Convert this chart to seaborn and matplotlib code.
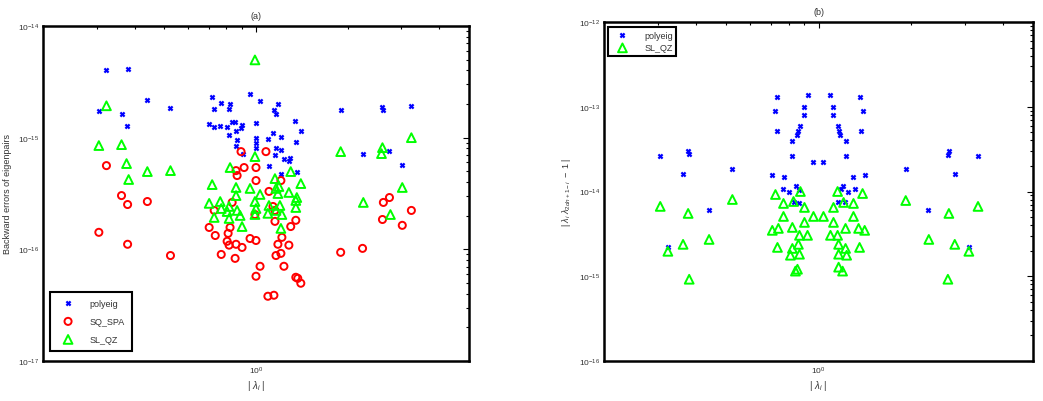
import numpy as np
import pandas as pd
import matplotlib
matplotlib.use("Agg")
import matplotlib.pyplot as plt
import seaborn as sns
from matplotlib.ticker import FixedLocator, NullFormatter, LogFormatterSciNotation

# ---------------- data : panel (a) ----------------
a_poly_x = [0.323, 0.379, 0.305, 0.362, 0.376, 0.440, 0.524, 0.718, 0.729, 0.769, 0.822, 0.816,
            0.956, 0.702, 0.729, 0.763, 0.804, 0.835, 0.854, 0.900, 0.893, 0.860, 0.816, 1.0,
            0.867, 0.860, 1.0, 1.0, 1.0, 0.907, 1.031, 1.180, 1.145, 1.163, 1.341, 1.403,
            1.137, 1.094, 1.207, 1.351, 1.163, 1.207, 1.154, 1.235, 1.291, 1.282, 1.103, 1.361,
            1.207, 1.896, 2.600, 2.618, 3.235, 2.237, 2.741, 3.02]
a_poly_y = [4.05e-15, 4.13e-15, 1.74e-15, 1.64e-15, 1.28e-15, 2.18e-15, 1.85e-15, 2.32e-15,
            1.82e-15, 2.05e-15, 2.01e-15, 1.82e-15, 2.47e-15, 1.33e-15, 1.25e-15, 1.28e-15,
            1.25e-15, 1.39e-15, 1.39e-15, 1.31e-15, 1.23e-15, 1.155e-15, 1.06e-15, 1.36e-15,
            9.6e-16, 8.5e-16, 1.0e-15, 9.0e-16, 8.14e-16, 7.2e-16, 2.14e-15, 2.01e-15,
            1.78e-15, 1.64e-15, 1.42e-15, 1.155e-15, 1.09e-15, 9.8e-16, 1.02e-15, 9.2e-16,
            8.14e-16, 7.8e-16, 7.05e-16, 6.5e-16, 6.63e-16, 6.23e-16, 5.62e-16, 4.97e-16,
            4.77e-16, 1.78e-15, 1.89e-15, 1.78e-15, 1.93e-15, 7.2e-16, 7.66e-16, 5.74e-16]

a_spa_x = [0.323, 0.362, 0.379, 0.440, 0.305, 0.379, 0.524, 0.893, 1.078, 0.914, 0.860, 0.867,
           1.0, 1.0, 1.207, 1.103, 0.835, 0.729, 0.992, 0.702, 0.822, 0.810, 0.735, 0.804,
           0.816, 0.860, 0.900, 0.956, 1.0, 1.137, 1.154, 1.154, 1.351, 1.300, 1.216, 1.180,
           1.282, 1.207, 1.163, 0.769, 0.854, 1.031, 1.0, 1.235, 1.351, 1.371, 1.403, 1.094,
           1.145, 2.618, 2.741, 3.235, 2.600, 3.02, 1.896, 2.237]
a_spa_y = [5.62e-16, 3.03e-16, 2.52e-16, 2.68e-16, 1.42e-16, 1.11e-16, 8.8e-17, 7.5e-16,
           7.5e-16, 5.40e-16, 5.07e-16, 4.58e-16, 5.40e-16, 4.13e-16, 4.13e-16, 3.30e-16,
           2.63e-16, 2.23e-16, 2.05e-16, 1.57e-16, 1.57e-16, 1.39e-16, 1.33e-16, 1.18e-16,
           1.09e-16, 1.11e-16, 1.04e-16, 1.25e-16, 1.20e-16, 2.42e-16, 2.23e-16, 1.78e-16,
           1.82e-16, 1.60e-16, 1.28e-16, 1.11e-16, 1.09e-16, 9.2e-17, 8.8e-17, 9.0e-17,
           8.3e-17, 7.05e-17, 5.74e-17, 7.05e-17, 5.62e-17, 5.5e-17, 4.97e-17, 3.80e-17,
           3.88e-17, 2.63e-16, 2.91e-16, 2.23e-16, 1.85e-16, 1.64e-16, 9.4e-17, 1.02e-16]

a_qz_x = [0.323, 0.305, 0.362, 0.376, 0.382, 0.440, 0.524, 0.992, 0.992, 0.822, 0.718, 0.860,
          0.956, 1.031, 1.154, 1.163, 1.180, 1.282, 1.403, 1.300, 1.189, 1.361, 0.860, 0.702,
          0.763, 0.769, 0.729, 0.816, 0.804, 0.816, 0.867, 0.887, 0.900, 0.992, 1.0, 0.992,
          1.103, 1.094, 1.163, 1.198, 1.216, 1.207, 1.351, 1.351, 3.235, 1.896, 2.600, 2.581,
          3.02, 2.25, 2.761]
a_qz_y = [1.93e-15, 8.5e-16, 8.66e-16, 5.86e-16, 4.22e-16, 4.97e-16, 5.07e-16, 4.97e-15,
          6.77e-16, 5.40e-16, 3.80e-16, 3.58e-16, 3.51e-16, 3.10e-16, 4.30e-16, 3.51e-16,
          3.16e-16, 3.23e-16, 3.88e-16, 4.97e-16, 3.65e-16, 2.91e-16, 3.03e-16, 2.58e-16,
          2.68e-16, 2.32e-16, 1.93e-16, 2.42e-16, 2.18e-16, 1.89e-16, 2.23e-16, 2.01e-16,
          1.60e-16, 2.68e-16, 2.32e-16, 2.05e-16, 2.47e-16, 2.10e-16, 2.23e-16, 2.47e-16,
          2.05e-16, 1.54e-16, 2.74e-16, 2.37e-16, 1.0e-15, 7.5e-16, 8.14e-16, 7.2e-16,
          3.58e-16, 2.63e-16, 2.05e-16]

# ---------------- data : panel (b) ----------------
b_poly_x = [0.305, 0.376, 0.379, 0.362, 0.440, 0.323, 0.524, 0.735, 0.724, 0.735, 0.921, 0.900,
            0.900, 0.873, 0.860, 0.854, 0.822, 0.822, 0.963, 1.038, 1.094, 1.111, 1.119, 1.154,
            1.163, 1.171, 1.225, 1.225, 1.361, 1.392, 1.371, 0.707, 0.774, 1.300, 1.414, 0.769,
            0.804, 0.847, 0.867, 0.829, 0.867, 1.198, 1.244, 1.180, 1.311, 1.154, 1.216, 1.924,
            2.66, 2.64, 3.31, 2.78, 2.27, 3.09]
b_poly_y = [2.65e-14, 3.04e-14, 2.80e-14, 1.63e-14, 5.97e-15, 2.19e-15, 1.82e-14, 1.31e-13,
            8.97e-14, 5.22e-14, 1.38e-13, 1.0e-13, 8.05e-14, 5.98e-14, 5.22e-14, 4.69e-14,
            3.98e-14, 2.65e-14, 2.25e-14, 2.25e-14, 1.38e-13, 1.0e-13, 8.05e-14, 5.98e-14,
            5.22e-14, 4.69e-14, 3.98e-14, 2.65e-14, 1.31e-13, 8.97e-14, 5.22e-14, 1.58e-14,
            1.50e-14, 1.50e-14, 1.58e-14, 1.08e-14, 1.0e-14, 1.15e-14, 1.03e-14, 7.62e-15,
            7.23e-15, 1.15e-14, 1.0e-14, 1.06e-14, 1.08e-14, 7.43e-15, 7.62e-15, 1.82e-14,
            3.04e-14, 2.72e-14, 2.65e-14, 1.63e-14, 5.97e-15, 2.19e-15]

b_qz_x = [0.305, 0.376, 0.323, 0.362, 0.440, 0.379, 0.524, 0.724, 0.873, 0.829, 0.769, 0.900,
          0.769, 0.963, 1.038, 1.119, 1.207, 1.154, 1.392, 1.300, 1.300, 0.900, 1.119, 0.822,
          0.707, 0.740, 0.867, 0.921, 1.094, 1.154, 1.225, 1.351, 1.414, 0.860, 0.822, 0.735,
          0.810, 0.867, 1.163, 1.225, 1.163, 1.235, 1.361, 0.854, 0.841, 1.163, 1.198, 1.924,
          2.66, 3.31, 2.288, 2.78, 3.09, 2.64]
b_qz_y = [6.67e-15, 5.51e-15, 1.97e-15, 2.38e-15, 2.72e-15, 9.22e-16, 8.05e-15, 9.22e-15,
          1.0e-14, 7.62e-15, 7.23e-15, 6.49e-15, 5.08e-15, 5.08e-15, 5.08e-15, 6.49e-15,
          7.43e-15, 1.0e-14, 9.47e-15, 7.23e-15, 5.08e-15, 4.32e-15, 4.32e-15, 3.77e-15,
          3.48e-15, 3.67e-15, 3.04e-15, 3.04e-15, 3.04e-15, 3.04e-15, 3.67e-15, 3.67e-15,
          3.48e-15, 2.38e-15, 2.13e-15, 2.19e-15, 1.77e-15, 1.82e-15, 2.38e-15, 2.13e-15,
          1.82e-15, 1.77e-15, 2.19e-15, 1.21e-15, 1.15e-15, 1.28e-15, 1.15e-15, 7.83e-15,
          5.51e-15, 6.67e-15, 2.72e-15, 2.38e-15, 1.97e-15, 9.22e-16]

labels = ["polyeig", "SQ_SPA", "SL_QZ"]
titles = ["(a)", "(b)"]
ylabel_a = "Backward errors of eigenpairs"
ylabel_b = r"$|\ \lambda_i\ \lambda_{2dn+1-i}\ -\ 1\ |$"
xlabel = r"$|\ \lambda_i\ |$"

# ---------------- style ----------------
sns.set_theme(style="white")
plt.rcParams["font.family"] = ["Liberation Sans", "DejaVu Sans"]
plt.rcParams["mathtext.fontset"] = "custom"
plt.rcParams["mathtext.rm"] = "Liberation Sans"
plt.rcParams["mathtext.it"] = "Liberation Sans:italic"
plt.rcParams["mathtext.sf"] = "Liberation Sans"

TXT = "#333333"
fig = plt.figure(figsize=(10.43, 4.02), dpi=100)
W, H = 1043, 402
ax1 = fig.add_axes([43 / W, 1 - 362 / H, 426 / W, 335 / H])
ax2 = fig.add_axes([604 / W, 1 - 362 / H, 429 / W, 339 / H])


def draw(ax, x, y, kind, label):
    if kind == "x":
        sns.scatterplot(x=x, y=y, ax=ax, marker="x", color="#0000ff", s=9,
                        linewidth=1.6, label=label, zorder=3)
    elif kind == "o":
        sns.scatterplot(x=x, y=y, ax=ax, marker="o", facecolor="none",
                        edgecolor="#ff0000", s=26, linewidth=1.4, label=label, zorder=3)
    else:
        sns.scatterplot(x=x, y=y, ax=ax, marker="^", facecolor="none",
                        edgecolor="#00ff00", s=40, linewidth=1.4, label=label, zorder=3)


draw(ax1, a_poly_x, a_poly_y, "x", labels[0])
draw(ax1, a_spa_x, a_spa_y, "o", labels[1])
draw(ax1, a_qz_x, a_qz_y, "^", labels[2])
draw(ax2, b_poly_x, b_poly_y, "x", labels[0])
draw(ax2, b_qz_x, b_qz_y, "^", labels[2])

x_major = [1.0]
x_minor = [0.2, 0.3, 0.4, 0.5, 0.6, 0.7, 0.8, 0.9, 2, 3, 4, 5]

for ax, ylim, title, ylab in [(ax1, (1e-17, 1e-14), titles[0], ylabel_a),
                               (ax2, (1e-16, 1e-12), titles[1], ylabel_b)]:
    ax.set_xscale("log")
    ax.set_yscale("log")
    ax.set_xlim(0.2, 5)
    ax.set_ylim(*ylim)
    lo, hi = int(round(np.log10(ylim[0]))), int(round(np.log10(ylim[1])))
    y_major = [10.0 ** e for e in range(lo, hi + 1)]
    y_minor = [m * 10.0 ** e for e in range(lo, hi) for m in range(2, 10)]
    ax.xaxis.set_major_locator(FixedLocator(x_major))
    ax.xaxis.set_minor_locator(FixedLocator(x_minor))
    ax.yaxis.set_major_locator(FixedLocator(y_major))
    ax.yaxis.set_minor_locator(FixedLocator(y_minor))
    ax.xaxis.set_major_formatter(LogFormatterSciNotation())
    ax.yaxis.set_major_formatter(LogFormatterSciNotation())
    ax.xaxis.set_minor_formatter(NullFormatter())
    ax.yaxis.set_minor_formatter(NullFormatter())
    ax.tick_params(which="both", direction="in", top=True, right=True,
                   colors="black", labelcolor=TXT, labelsize=6, width=0.8, pad=3)
    ax.tick_params(which="major", length=4)
    ax.tick_params(which="minor", length=2.5)
    for sp in ax.spines.values():
        sp.set_color("black")
        sp.set_linewidth(1.8)
        sp.set_visible(True)
    ax.set_title(title, fontsize=6.5, color=TXT, pad=6)
    ax.set_xlabel(xlabel, fontsize=7, color=TXT, labelpad=1)
    ax.set_ylabel(ylab, fontsize=6.5, color=TXT, labelpad=4)
    ax.set_facecolor("white")

leg1 = ax1.legend(loc="lower left", bbox_to_anchor=(7 / 426, 10 / 335), borderaxespad=0,
                  frameon=True, fancybox=False, edgecolor="black", fontsize=6.5,
                  labelspacing=1.0, handletextpad=1.2, borderpad=0.8, handlelength=2.4,
                  labelcolor=TXT)
leg2 = ax2.legend(loc="upper left", bbox_to_anchor=(4 / 429, 1 - 5 / 339), borderaxespad=0,
                  frameon=True, fancybox=False, edgecolor="black", fontsize=6.5,
                  labelspacing=0.4, handletextpad=1.2, borderpad=0.4, handlelength=2.4,
                  labelcolor=TXT)
for lg in (leg1, leg2):
    lg.get_frame().set_linewidth(1.5)
    lg.get_frame().set_alpha(1)

fig.savefig("out.png", dpi=100, facecolor="white")
